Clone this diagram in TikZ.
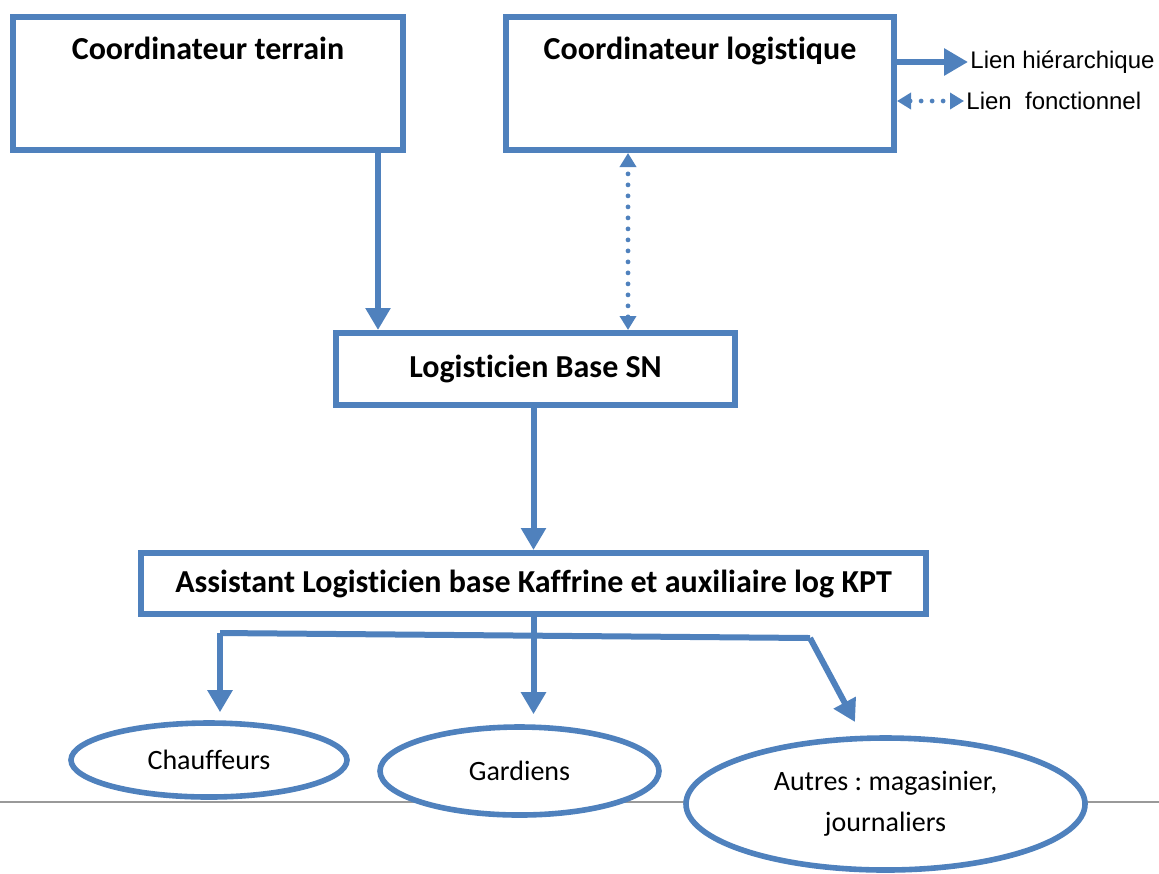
\documentclass[tikz,border=0pt]{standalone}
\usepackage{fontspec}
\setmainfont{Carlito}[Ligatures=NoCommon]
\newfontfamily\arialfont{Liberation Sans}
\usetikzlibrary{arrows.meta, shapes.geometric, positioning}
\definecolor{orgblue}{HTML}{4F81BD}
\frenchspacing

\begin{document}
\begin{tikzpicture}[x=0.5pt, y=-0.5pt,
    box/.style={draw=orgblue, line width=3pt, rectangle,
                font=\fontsize{16}{19}\selectfont\bfseries},
    role/.style={draw=orgblue, line width=2.8pt, ellipse, fill=white,
                 align=center, font=\fontsize{14}{20.5}\selectfont},
    arr/.style={draw=orgblue, line width=3pt,
                -{Triangle[width=12pt, length=11pt]}},
    link/.style={draw=orgblue, line width=3pt},
    fonc/.style={draw=orgblue, line width=2.4pt, line cap=round,
                 dash pattern=on 0pt off 5.5pt,
                 {Triangle[width=8pt, length=7pt, line cap=butt]}-{Triangle[width=8pt, length=7pt, line cap=butt]}},
    legend/.style={font=\arialfont\fontsize{12}{14}\selectfont, inner sep=1pt, anchor=west}]

    \useasboundingbox (0,0) rectangle (1159,873);

    % page footer line
    \draw[gray!80, line width=0.8pt] (0,802) -- (1159,802);

    % boxes
    \node[box,
          minimum width=195pt,
          minimum height=66.5pt,
          text height=10pt,
          text depth=34pt] (terrain) at (208,83.5) {Coordinateur terrain};
    \node[box,
          minimum width=194pt,
          minimum height=66.5pt,
          text height=10pt,
          text depth=34pt] (logist) at (700,83.5) {Coordinateur logistique};
    \node[box,
          minimum width=199.5pt,
          minimum height=36pt] (base) at (535.5,369) {Logisticien Base SN};
    \node[box,
          minimum width=392.5pt,
          minimum height=30.5pt] (assist) at (533.5,583.5)
          {Assistant Logisticien base Kaffrine et auxiliaire log KPT};

    % ellipses
    \node[role,
          minimum width=138pt,
          minimum height=37pt] (chauf) at (209,760) {Chauffeurs};
    \node[role,
          minimum width=139.5pt,
          minimum height=44pt] (gard) at (519.5,771) {Gardiens};
    \node[role,
          minimum width=199.5pt,
          minimum height=66pt] (autres) at (885.5,804)
          {Autres : magasinier,\\journaliers};

    % legend
    \node[legend] (hier) at (968,62) {Lien hiérarchique};
    \node[legend] (fct) at (964,101) {Lien\ \ fonctionnel};
    \draw[arr, -{Triangle[width=13pt, length=12pt]}] (logist.east |- hier.west) -- (hier.west);
    \draw[fonc] (logist.east |- fct.west) -- (fct.west);

    % links
    \draw[arr] ([xshift=85pt]terrain.south) -- ([xshift=-78.75pt]base.north);
    \draw[fonc] ([xshift=46.25pt]base.north) -- ([xshift=46.25pt]base.north |- logist.south);
    \draw[arr] ([xshift=-1pt]base.south) -- ([xshift=-1pt]base.south |- assist.north);

    \coordinate (jl) at (220,633);
    \coordinate (jr) at (810,638);
    \coordinate (ar) at (855,722);
    \draw[link] (assist.south) -- (assist.south |- jl);
    \draw[link] (jl) -- (jr);
    \draw[arr, shorten >=4pt] (jl) -- (jl |- chauf.north);
    \draw[arr, shorten >=5pt] (assist.south |- jl) -- (assist.south |- gard.north);
    \draw[arr] (jr) -- (ar);
\end{tikzpicture}
\end{document}
